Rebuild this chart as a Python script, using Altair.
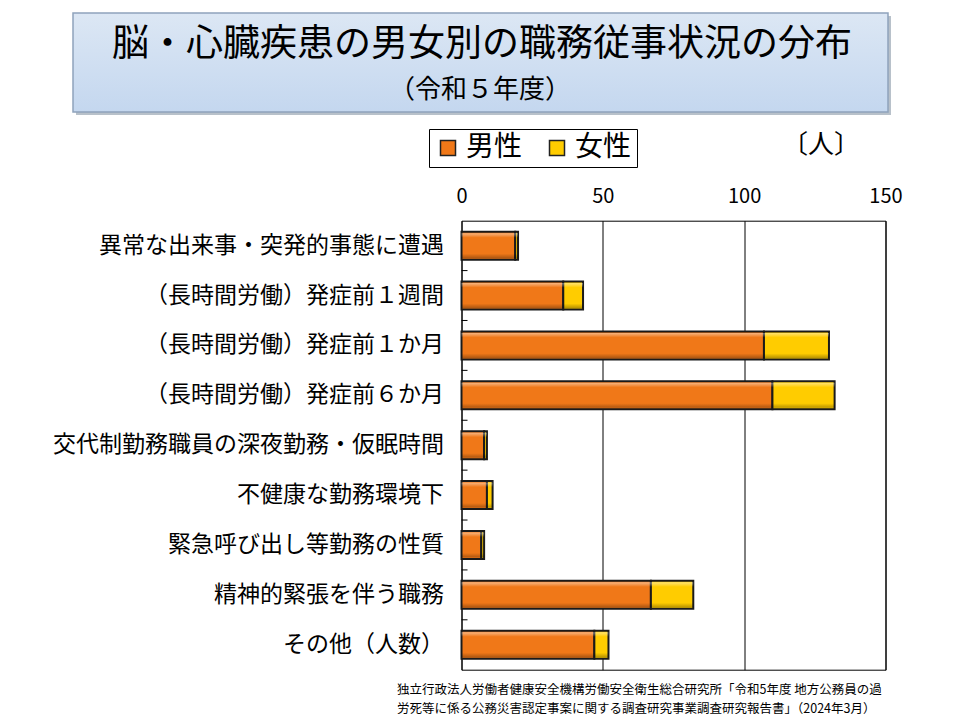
import altair as alt
import pandas as pd

# ---------------- data ----------------
categories = [
    "異常な出来事・突発的事態に遭遇",
    "（長時間労働）発症前１週間",
    "（長時間労働）発症前１か月",
    "（長時間労働）発症前６か月",
    "交代制勤務職員の深夜勤務・仮眠時間",
    "不健康な勤務環境下",
    "緊急呼び出し等勤務の性質",
    "精神的緊張を伴う職務",
    "その他（人数）",
]
male = [19, 36, 107, 110, 8, 9, 7, 67, 47]
female = [1, 7, 23, 22, 1, 2, 1, 15, 5]
series = ["男性", "女性"]
colors = ["#F07818", "#FFCC00"]
x_ticks = [0, 50, 100, 150]
title_line1 = "脳・心臓疾患の男女別の職務従事状況の分布"
title_line2 = "（令和５年度）"
unit_label = "〔人〕"
source_lines = [
    "独立行政法人労働者健康安全機構労働安全衛生総合研究所「令和5年度 地方公務員の過",
    "労死等に係る公務災害認定事案に関する調査研究事業調査研究報告書」（2024年3月）",
]

rows = []
for c, m, f in zip(categories, male, female):
    rows.append({"cat": c, "sex": series[0], "n": m, "ord": 0})
    rows.append({"cat": c, "sex": series[1], "n": f, "ord": 1})
df = pd.DataFrame(rows)

FONT = "Noto Sans CJK JP"
OX, OY = 461.5, 220.7          # plot origin on the page
W, H = 424, 449
CW, CH = 944, 712              # chart canvas


def px(x):
    return x - OX


def py(y):
    return y - OY


yscale = alt.Scale(domain=categories, paddingInner=0, paddingOuter=0)
xscale = alt.Scale(domain=[0, 150], nice=False)

bars = alt.Chart(df).mark_bar(size=28, stroke="#1a1a1a", strokeWidth=2).encode(
    x=alt.X(
        "n:Q",
        stack="zero",
        scale=xscale,
        axis=alt.Axis(
            orient="top", values=x_ticks, grid=True, gridColor="black", gridWidth=1,
            gridOpacity=1, domain=False, ticks=False, tickSize=0, labelPadding=14,
            labelFont=FONT, labelFontSize=20, labelColor="black", title=None,
            labelFlush=False,
        ),
    ),
    y=alt.Y(
        "cat:N", sort=categories, scale=yscale,
        axis=alt.Axis(
            ticks=False, tickSize=0, domain=False, labelPadding=18, labelFont=FONT,
            labelFontSize=23, labelColor="black", title=None, labelLimit=600,
        ),
    ),
    color=alt.Color(
        "sex:N",
        scale=alt.Scale(domain=series, range=colors),
        legend=alt.Legend(
            orient="none", legendX=px(429), legendY=py(129), direction="horizontal",
            title=None, strokeColor="black", fillColor="white", padding=5,
            symbolType="square", symbolSize=225, symbolStrokeColor="#222",
            symbolStrokeWidth=1.5, symbolOpacity=1, labelFont=FONT, labelFontSize=28,
            labelColor="black", columnPadding=20, labelOffset=4,
        ),
    ),
    order=alt.Order("ord:Q"),
)

bevel = alt.Chart(df).mark_bar(
    size=25,
    fill=alt.Gradient(
        gradient="linear",
        stops=[alt.GradientStop(color="rgba(255,255,255,0.45)", offset=0),
               alt.GradientStop(color="rgba(255,255,255,0)", offset=0.18),
               alt.GradientStop(color="rgba(0,0,0,0)", offset=0.82),
               alt.GradientStop(color="rgba(0,0,0,0.28)", offset=1)],
        x1=0, x2=0, y1=0, y2=1,
    ),
    strokeWidth=0,
).encode(
    x=alt.X("n:Q", stack="zero", scale=xscale),
    y=alt.Y("cat:N", sort=categories, scale=yscale),
    detail="sex:N",
    order=alt.Order("ord:Q"),
)

tick_df = pd.DataFrame({"cat": categories[1:]})
ticks = alt.Chart(tick_df).mark_rule(color="black", strokeWidth=1).encode(
    y=alt.Y("cat:N", sort=categories, scale=yscale, bandPosition=0),
    x=alt.value(0),
    x2=alt.value(6),
)

one = pd.DataFrame({"a": [0]})
shadow = alt.Chart(one).mark_rect(color="#9aa6b4", opacity=0.7).encode(
    x=alt.value(px(76)), x2=alt.value(px(891)), y=alt.value(py(16)), y2=alt.value(py(115)),
)
box = alt.Chart(one).mark_rect(
    color=alt.Gradient(
        gradient="linear",
        stops=[alt.GradientStop(color="#DCE7F4", offset=0),
               alt.GradientStop(color="#C4D7EF", offset=1)],
        x1=0, x2=0, y1=0, y2=1,
    ),
    stroke="#8FA3BC", strokeWidth=1.5,
).encode(
    x=alt.value(px(73)), x2=alt.value(px(888)), y=alt.value(py(13)), y2=alt.value(py(112)),
)

t1 = alt.Chart(pd.DataFrame({"t": [title_line1]})).mark_text(
    font=FONT, fontSize=37, align="center", baseline="middle", color="black"
).encode(text="t:N", x=alt.value(px(482)), y=alt.value(py(45)))
t2 = alt.Chart(pd.DataFrame({"t": [title_line2]})).mark_text(
    font=FONT, fontSize=26, align="center", baseline="middle", color="black"
).encode(text="t:N", x=alt.value(px(480)), y=alt.value(py(90)))
unit = alt.Chart(pd.DataFrame({"t": [unit_label]})).mark_text(
    font=FONT, fontSize=26, align="center", baseline="middle", color="black"
).encode(text="t:N", x=alt.value(px(821)), y=alt.value(py(145)))
src1 = alt.Chart(pd.DataFrame({"t": [source_lines[0]]})).mark_text(
    font=FONT, fontSize=12.5, align="left", baseline="middle", color="black"
).encode(text="t:N", x=alt.value(px(397)), y=alt.value(py(690)))
src2 = alt.Chart(pd.DataFrame({"t": [source_lines[1]]})).mark_text(
    font=FONT, fontSize=12.5, align="left", baseline="middle", color="black"
).encode(text="t:N", x=alt.value(px(397)), y=alt.value(py(708.5)))

chart = alt.layer(shadow, box, t1, t2, unit, bars, bevel, ticks, src1, src2).properties(
    width=W,
    height=H,
    padding={"left": OX - 8, "top": OY - 8, "right": CW - (OX - 8) - W, "bottom": CH - (OY - 8) - H},
    autosize=alt.AutoSizeParams(type="none"),
    background="white",
).configure_view(stroke="black", strokeWidth=1)

chart.save("out.html", embed_options={"renderer": "svg", "actions": False})
